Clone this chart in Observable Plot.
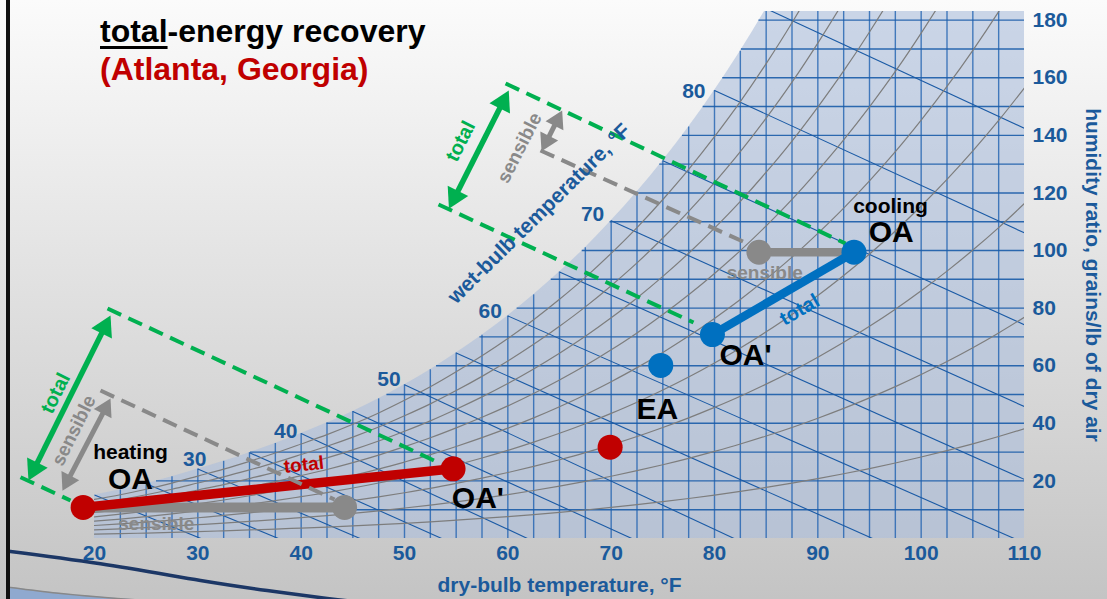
<!DOCTYPE html>
<html><head><meta charset="utf-8">
<script src="https://cdn.jsdelivr.net/npm/d3@7"></script>
<script src="https://cdn.jsdelivr.net/npm/@observablehq/plot@0.6"></script>
<style>
html,body{margin:0;padding:0;}
body{width:1107px;height:599px;overflow:hidden;position:relative;background:linear-gradient(#fbfbfb,#c4c4c4);font-family:Arial,"Liberation Sans",sans-serif;}
#chart{position:absolute;left:0;top:0;}
#border{position:absolute;left:6px;top:0;width:3.5px;height:599px;background:#111;}
#title{position:absolute;left:100px;top:12px;font-weight:bold;font-size:32px;line-height:38px;color:#000;white-space:nowrap;}
</style></head><body>
<div id="chart"></div>
<div id="border"></div>
<div id="title"><div><span style="text-decoration:underline;text-decoration-thickness:3px;text-underline-offset:4px">total</span>-energy recovery</div><div style="color:#c00000">(Atlanta, Georgia)</div></div>
<script>
// ---------------- data ----------------
// saturation curve: dry-bulb °F vs humidity ratio (grains/lb)
const satTemps  = [20,22.5,25,27.5,30,32.5,35,37.5,40,42.5,45,47.5,50,52.5,55,57.5,60,62.5,65,67.5,70,72.5,75,77.5,80,82.5,85,87.5,90,92.5,95,97.5,100,102.5,105,107.5,110];
const satGrains = [15.1,16.9,19.0,21.4,24.1,26.8,29.8,33.0,36.5,40.1,44.1,48.5,53.4,58.6,64.4,70.6,77.3,84.6,92.5,101.0,110.3,120.3,131.2,142.9,155.6,169.2,184.0,199.9,217.2,235.7,255.7,277.2,300.6,325.7,352.8,382.0,413.6];
// horizontal grid lines (grains) and where they meet the saturation curve (°F)
const gridGrains   = [10,20,30,40,50,60,70,80,90,100,110,120,130,140,150,160,170,180];
const gridDewTemps = [20,26.0,35.1,42.5,48.3,53.1,57.3,60.9,64.2,67.2,69.9,72.4,74.7,76.9,78.9,80.8,82.6,84.3];
// wet-bulb lines
const wbTemps       = [20,25,30,35,40,45,50,55,60,65,70,75,80,85];
const wbStartGrains = [15.1,19.0,24.1,29.8,36.5,44.1,53.4,64.4,77.3,92.5,110.3,131.2,155.6,184.0];
const wbEndTemps    = [30.3,37.8,45.7,53.6,61.9,72.0,81.9,95.3,109.0,110,110,110,110,110];
const wbEndGrains   = [0,0,0,0,0,0,0,0,0,20.5,45.8,74.2,106.1,142.4];
// relative-humidity curves
const rhLevels = [0.1,0.2,0.3,0.4,0.5,0.6,0.7,0.8,0.9];
// ticks
const xTicks = [20,30,40,50,60,70,80,90,100,110];
const yTicks = [20,40,60,80,100,120,140,160,180];
const wbLabelValues = ["30","40","50","60","70","80"];
const wbLabelTemps  = [29.7,38.5,48.5,58.3,68.2,78.0];
const wbLabelGrains = [27.4,37.2,55.2,78.9,112.5,155.4];
// process points: [OA, sensible end, OA', EA]
const heatTemps  = [18.9,44.2,54.7,69.9];
const heatGrains = [10.8,10.8,24.2,31.7];
const coolTemps  = [93.5,84.3,79.8,74.8];
const coolGrains = [99.4,99.4,70.8,60.1];
// dashed guide lines [t1,w1,t2,w2]
const totalGuides    = [[21.26,79.87,53.48,26.04],[12.84,21.29,17.68,13.19],[59.78,158.0,92.68,102.43],[53.29,115.98,77.97,75.0]];
const sensibleGuides = [[20.58,51.39,43.23,13.54],[63.16,134.73,83.19,102.43]];
// double arrows [t1,w1,t2,w2]
const totalArrows    = [[13.61,20.14,21.55,77.44],[54.3,114.5,60.09,155.56]];
const sensibleArrows = [[16.9,16.6,21.55,48.6],[63.26,134.5,65.26,148.6]];
// decorative slide swoosh
const swooshTemps  = [11.68,20.58,30.26,36.71,42.52,45.0];
const swooshGrains = [-4.41,-8.79,-14.58,-18.06,-20.83,-21.8];
const swooshGrayTemps  = [11.68,17.0,22.2,26.0];
const swooshGrayGrains = [-16.91,-19.2,-20.83,-21.8];

// ---------------- build ----------------
const FONT = "Arial, 'Liberation Sans', sans-serif";
const BLUE_TXT = "#1b5a9b", GREEN = "#00b050", GRAY = "#898989", RED = "#c00000", BLUE = "#0070c0";
const X_DOM = [20,110], Y_DOM = [0,183];
const ML = 94, MR = 83, MT = 11, MB = 61, WIDTH = 1107, HEIGHT = 599;
const xs = d3.scaleLinear(X_DOM, [ML, WIDTH - MR]);
const ys = d3.scaleLinear(Y_DOM, [HEIGHT - MB, MT]);

const sat = satTemps.map((t,i) => ({t, w: satGrains[i]}));
const rh = rhLevels.flatMap(p => sat.map(d => {
  const w = d.w / 7000, r = w / (0.622 + w);
  return {p, t: d.t, w: 7000 * 0.622 * p * r / (1 - p * r)};
}));
const hgrid = gridGrains.map((w,i) => ({w, t: gridDewTemps[i]}));
const wb = wbTemps.map((t,i) => ({t1: t, w1: wbStartGrains[i], t2: wbEndTemps[i], w2: wbEndGrains[i]}));
const toSeg = a => ({t1: a[0], w1: a[1], t2: a[2], w2: a[3]});

function buildArrow(id, a, L, hw) {
  const x1 = xs(a[0]), y1 = ys(a[1]), x2 = xs(a[2]), y2 = ys(a[3]);
  const dx = x2 - x1, dy = y2 - y1, len = Math.hypot(dx, dy), ux = dx/len, uy = dy/len;
  const pts = [];
  const tri = (px, py, ddx, ddy, hid) => {
    const bx = px - ddx*L, by = py - ddy*L, nx = -ddy, ny = ddx;
    [[px,py],[bx+nx*hw,by+ny*hw],[bx-nx*hw,by-ny*hw]].forEach(([X,Y]) => pts.push({id: hid, t: xs.invert(X), w: ys.invert(Y)}));
  };
  tri(x2, y2, ux, uy, id + "a");
  tri(x1, y1, -ux, -uy, id + "b");
  const k = L - 2;
  const shaft = {t1: xs.invert(x1 + ux*k), w1: ys.invert(y1 + uy*k), t2: xs.invert(x2 - ux*k), w2: ys.invert(y2 - uy*k)};
  return {pts, shaft};
}
const tArrows = totalArrows.map((a,i) => buildArrow("t"+i, a, 20, 11.5));
const sArrows = sensibleArrows.map((a,i) => buildArrow("s"+i, a, 17, 10));

const heat = heatTemps.map((t,i) => ({t, w: heatGrains[i]}));
const cool = coolTemps.map((t,i) => ({t, w: coolGrains[i]}));

const labels = [
  {s:"heating", t:23.48, w:29.9, size:21, color:"#000"},
  {s:"OA", t:23.48, w:20.5, size:30, color:"#000"},
  {s:"OA'", t:57.1, w:14.1, size:30, color:"#000"},
  {s:"EA", t:74.46, w:44.8, size:30, color:"#000"},
  {s:"cooling", t:97.03, w:115.3, size:21, color:"#000"},
  {s:"OA", t:97.1, w:106.2, size:30, color:"#000"},
  {s:"OA'", t:83.0, w:63.55, size:30, color:"#000"},
  {s:"sensible", t:25.98, w:5.21, size:19, color:GRAY},
  {s:"sensible", t:84.86, w:92.2, size:19, color:GRAY},
  {s:"total", t:40.26, w:25.6, size:19, color:RED, rot:-6},
  {s:"total", t:88.23, w:79.4, size:20, color:BLUE, rot:-30},
  {s:"total", t:16.23, w:50.45, size:20, color:GREEN, rot:-63.6},
  {s:"sensible", t:18.0, w:37.5, size:19, color:GRAY, rot:-63.6},
  {s:"total", t:55.42, w:137.96, size:20, color:GREEN, rot:-63},
  {s:"sensible", t:61.13, w:135.66, size:19, color:GRAY, rot:-63},
  {s:"wet-bulb temperature, °F", t:63.02, w:112.86, size:21, color:BLUE_TXT, rot:-44.5}
];
wbLabelValues.forEach((s,i) => labels.push({s, t: wbLabelTemps[i], w: wbLabelGrains[i], size:21, color:BLUE_TXT}));

const dash = "15,8";
const txt = {fill:BLUE_TXT, fontSize:21, fontWeight:"bold", fontFamily:FONT};
const marks = [
  // decorative swoosh at bottom-left
  Plot.areaY(swooshGrayTemps.map((t,i)=>({t, w: swooshGrayGrains[i]})), {x:"t", y1:-30, y2:"w", fill:"#8fa9cf", curve:"natural"}),
  Plot.line(swooshGrayTemps.map((t,i)=>({t, w: swooshGrayGrains[i]})), {x:"t", y:"w", stroke:"#888", strokeWidth:1.5, curve:"natural"}),
  Plot.line(swooshTemps.map((t,i)=>({t, w: swooshGrains[i]})), {x:"t", y:"w", stroke:"#1c3766", strokeWidth:3.5, curve:"natural"}),
  // chart fill under saturation curve
  Plot.areaY(sat, {x:"t", y1:0, y2:"w", fill:"#adbfdc", fillOpacity:0.62, curve:"monotone-x", clip:true}),
  // grid
  Plot.ruleX(sat.filter(d => d.t > 20 && d.t < 110), {x:"t", y1:0, y2:"w", stroke:"#1f62b0", strokeWidth:1.4, strokeOpacity:0.8, clip:true}),
  Plot.ruleY(hgrid, {y:"w", x1:"t", x2:110, stroke:"#1a5ca8", strokeWidth:1.4, strokeOpacity:0.9, clip:true}),
  Plot.link(wb, {x1:"t1", y1:"w1", x2:"t2", y2:"w2", stroke:"#1a5aa5", strokeWidth:1.1, clip:true}),
  Plot.line(rh, {x:"t", y:"w", z:"p", stroke:"#7d7d7d", strokeWidth:1.2, curve:"monotone-x", clip:true}),
  // process lines
  Plot.link([{t1:heat[0].t,w1:heat[0].w,t2:heat[1].t,w2:heat[1].w}], {x1:"t1",y1:"w1",x2:"t2",y2:"w2", stroke:GRAY, strokeWidth:10}),
  Plot.link([{t1:heat[0].t,w1:heat[0].w,t2:heat[2].t,w2:heat[2].w}], {x1:"t1",y1:"w1",x2:"t2",y2:"w2", stroke:RED, strokeWidth:9.5}),
  Plot.link([{t1:cool[0].t,w1:cool[0].w,t2:cool[1].t,w2:cool[1].w}], {x1:"t1",y1:"w1",x2:"t2",y2:"w2", stroke:GRAY, strokeWidth:8.5}),
  Plot.link([{t1:cool[0].t,w1:cool[0].w,t2:cool[2].t,w2:cool[2].w}], {x1:"t1",y1:"w1",x2:"t2",y2:"w2", stroke:BLUE, strokeWidth:8.5}),
  // dashed guides
  Plot.link(totalGuides.map(toSeg), {x1:"t1",y1:"w1",x2:"t2",y2:"w2", stroke:GREEN, strokeWidth:4, strokeDasharray:dash}),
  Plot.link(sensibleGuides.map(toSeg), {x1:"t1",y1:"w1",x2:"t2",y2:"w2", stroke:GRAY, strokeWidth:4, strokeDasharray:dash}),
  // double arrows
  Plot.link(tArrows.map(a => a.shaft), {x1:"t1",y1:"w1",x2:"t2",y2:"w2", stroke:GREEN, strokeWidth:5.5}),
  Plot.line(tArrows.flatMap(a => a.pts), {x:"t", y:"w", z:"id", fill:GREEN, stroke:"none"}),
  Plot.link(sArrows.map(a => a.shaft), {x1:"t1",y1:"w1",x2:"t2",y2:"w2", stroke:GRAY, strokeWidth:5}),
  Plot.line(sArrows.flatMap(a => a.pts), {x:"t", y:"w", z:"id", fill:GRAY, stroke:"none"}),
  // points
  Plot.dot([heat[1]], {x:"t", y:"w", r:12.5, fill:GRAY}),
  Plot.dot([heat[0], heat[2], heat[3]], {x:"t", y:"w", r:12.5, fill:RED}),
  Plot.dot([cool[1]], {x:"t", y:"w", r:12.5, fill:GRAY}),
  Plot.dot([cool[0], cool[2], cool[3]], {x:"t", y:"w", r:12.5, fill:BLUE}),
  // tick labels and axis titles
  Plot.text(xTicks, {x: d => d, frameAnchor:"bottom", lineAnchor:"middle", textAnchor:"middle", dy:15, text: d => String(d), ...txt}),
  Plot.text(yTicks, {y: d => d, frameAnchor:"right", lineAnchor:"middle", textAnchor:"start", dx:8, text: d => String(d), ...txt}),
  Plot.text(["dry-bulb temperature, °F"], {frameAnchor:"bottom", lineAnchor:"middle", textAnchor:"middle", dy:47, text: d => d, ...txt}),
  Plot.text(["humidity ratio, grains/lb of dry air"], {frameAnchor:"right", lineAnchor:"middle", textAnchor:"middle", dx:68, rotate:90, text: d => d, ...txt}),
  ...labels.map(l => Plot.text([l], {x:"t", y:"w", text:"s", textAnchor:"middle", lineAnchor:"middle", fill:l.color, fontSize:l.size, fontWeight:"bold", fontFamily:FONT, rotate:l.rot || 0}))
];

const chart = Plot.plot({
  width: WIDTH, height: HEIGHT,
  marginLeft: ML, marginRight: MR, marginTop: MT, marginBottom: MB,
  x: {domain: X_DOM, axis: null},
  y: {domain: Y_DOM, axis: null},
  style: {background: "transparent", overflow: "visible", fontFamily: FONT},
  marks
});
document.getElementById("chart").appendChild(chart);
</script></body></html>
